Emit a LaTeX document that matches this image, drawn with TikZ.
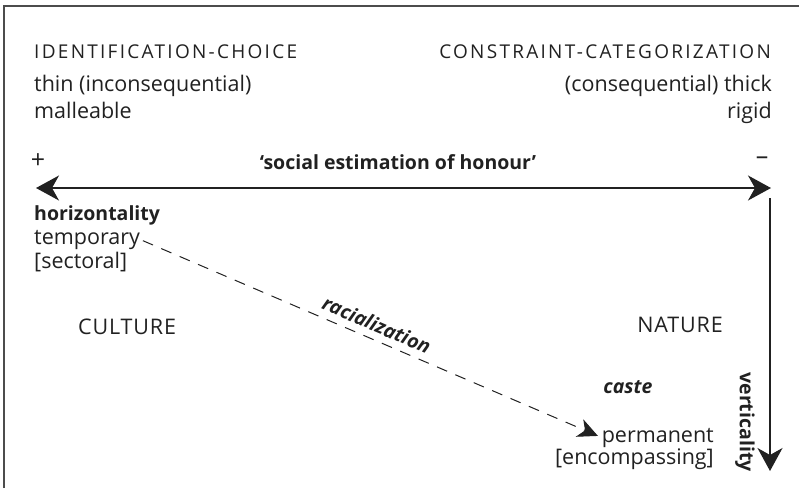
\documentclass[tikz,border=0pt]{standalone}
\usepackage{fontspec}
\setmainfont{Open Sans}
\usetikzlibrary{arrows.meta}
\definecolor{ink}{gray}{0.13}
\tikzset{
  txt/.style={inner sep=0pt, text=ink, font=\fontsize{21.5}{24}\selectfont},
  bld/.style={inner sep=0pt, text=ink, font=\fontsize{19.5}{22}\selectfont\bfseries},
  bit/.style={inner sep=0pt, text=ink, font=\fontsize{19.5}{22}\selectfont\bfseries\itshape},
  caps/.style={inner sep=0pt, text=ink, font=\fontsize{21.5}{24}\selectfont\addfontfeatures{LetterSpace=4}},
  sc/.style={inner sep=0pt, text=ink, font=\fontsize{19}{21}\selectfont\addfontfeatures{LetterSpace=12}},
  sign/.style={inner sep=0pt, text=ink, font=\fontsize{25}{27}\selectfont},
  tip/.tip={Stealth[length=23pt,width=25pt,inset=7pt]},
  axis/.style={line width=1.8pt, draw=ink, -tip},
  frame/.style={line width=1.4pt, draw=black!70},
}
\begin{document}
\begin{tikzpicture}[x=1pt,y=-1pt]
\useasboundingbox (0,0) rectangle (799,488);
\draw[frame] (4,488) -- (4,6) -- (799,6);
% top labels
\node[sc, anchor=base west] (idc) at (34,58) {IDENTIFICATION-CHOICE};
\node[txt, anchor=base west] (thin) at (34,91) {thin (inconsequential)};
\node[txt, anchor=base west] (mall) at (34,118) {malleable};
\node[sc, anchor=base east] (cc) at (771,58) {CONSTRAINT-CATEGORIZATION};
\node[txt, anchor=base east] (cons) at (772,91) {(consequential) thick};
\node[txt, anchor=base east] (rigid) at (772,118) {rigid};
% axis labels
\node[sign] (plus) at (38,161) {+};
\node[bld] (soc) at (398,162) {‘social estimation of honour’};
\node[sign] (minus) at (762,161) {–};
\coordinate (L) at (36,188);
\coordinate (R) at (771,188);
\coordinate (T) at (770,198);
\coordinate (B) at (770,471);
\draw[axis, tip-tip] (L) -- (R);
\draw[axis] (T) -- (B);
% left block
\node[bld, anchor=base west] (hor) at (34,220) {horizontality};
\node[txt, anchor=base west] (temp) at (34,244) {temporary};
\node[txt, anchor=base west] (sect) at (34,268) {[sectoral]};
\node[caps, anchor=west] (cult) at (78,327) {CULTURE};
\node[caps, anchor=east] (nat) at (723,325) {NATURE};
\node[bit] (caste) at (628,387) {caste};
\node[txt, anchor=base east] (perm) at (714,442) {permanent};
\node[txt, anchor=base east] (enc) at (714,464) {[encompassing]};
\node[bld, rotate=-90] (vert) at (745,422) {verticality};
% dashed arrow
\draw[line width=1pt, draw=ink, dash pattern=on 11pt off 9pt, -{Stealth[length=20pt,width=19pt,inset=6pt]}, shorten <=3pt, shorten >=4pt]
  (temp.east) -- (perm.west)
  node[pos=0.5, sloped, above=7pt, bit] (rac) {racialization};
\end{tikzpicture}
\end{document}
